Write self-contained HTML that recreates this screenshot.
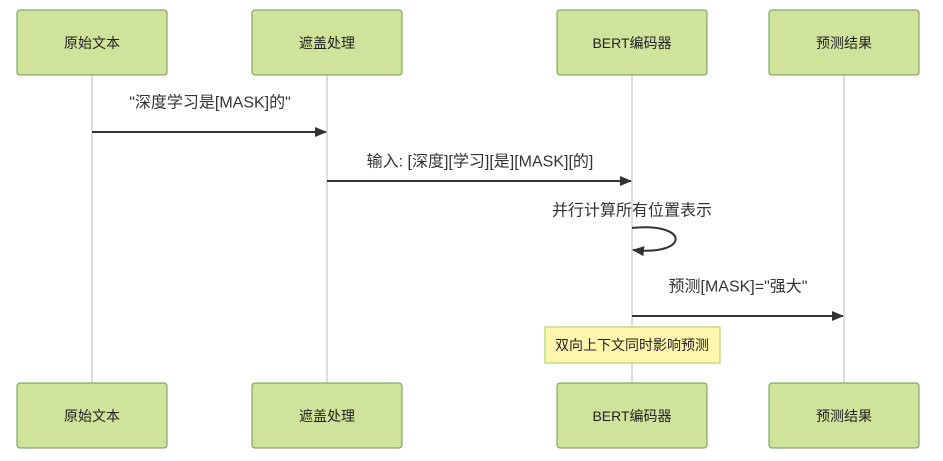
<!DOCTYPE html>
<html><head><meta charset="utf-8"><style>
html,body{margin:0;padding:0;background:#fff;}
svg{display:block;font-family:"Liberation Sans","Noto Sans CJK SC",sans-serif;}
</style></head><body>
<svg width="943" height="461" viewBox="0 0 943 461" xmlns="http://www.w3.org/2000/svg">
<defs>
<marker id="ah" markerWidth="12" markerHeight="10" refX="11" refY="5" orient="auto" markerUnits="userSpaceOnUse">
<path d="M0,0 L12,5 L0,10 z" fill="#333"/>
</marker>
</defs>
<g stroke="#ddd" stroke-width="2">
<line x1="92" y1="75" x2="92" y2="383"/>
<line x1="327" y1="75" x2="327" y2="383"/>
<line x1="632" y1="75" x2="632" y2="383"/>
<line x1="844" y1="75" x2="844" y2="383"/>
</g>
<g fill="#cfe39a" stroke="#6e9a50" stroke-width="1">
<rect x="17" y="10" width="150" height="65" rx="3"/>
<rect x="252" y="10" width="150" height="65" rx="3"/>
<rect x="557" y="10" width="150" height="65" rx="3"/>
<rect x="769" y="10" width="150" height="65" rx="3"/>
<rect x="17" y="383" width="150" height="65" rx="3"/>
<rect x="252" y="383" width="150" height="65" rx="3"/>
<rect x="557" y="383" width="150" height="65" rx="3"/>
<rect x="769" y="383" width="150" height="65" rx="3"/>
</g>
<g font-size="14" fill="#222" text-anchor="middle" dominant-baseline="central">
<text x="92" y="43">原始文本</text>
<text x="327" y="43">遮盖处理</text>
<text x="632" y="43">BERT编码器</text>
<text x="844" y="43">预测结果</text>
<text x="92" y="416">原始文本</text>
<text x="327" y="416">遮盖处理</text>
<text x="632" y="416">BERT编码器</text>
<text x="844" y="416">预测结果</text>
</g>
<g stroke="#333" stroke-width="2" fill="none">
<line x1="92" y1="132" x2="326" y2="132" marker-end="url(#ah)"/>
<line x1="327" y1="181" x2="631" y2="181" marker-end="url(#ah)"/>
<path d="M632,228 C690,222 690,256 633,250" marker-end="url(#ah)"/>
<line x1="632" y1="316" x2="843" y2="316" marker-end="url(#ah)"/>
</g>
<g font-size="16" fill="#333" text-anchor="middle" dominant-baseline="central">
<text x="210" y="103">"深度学习是[MASK]的"</text>
<text x="480" y="162">输入: [深度][学习][是][MASK][的]</text>
<text x="632" y="211">并行计算所有位置表示</text>
<text x="738" y="287">预测[MASK]="强大"</text>
</g>
<rect x="545" y="327" width="175" height="36" fill="#fff5ad" stroke="#c2dc8c" stroke-width="1.5"/>
<text x="632" y="345" font-size="14" fill="#222" text-anchor="middle" dominant-baseline="central">双向上下文同时影响预测</text>
</svg>
</body></html>
